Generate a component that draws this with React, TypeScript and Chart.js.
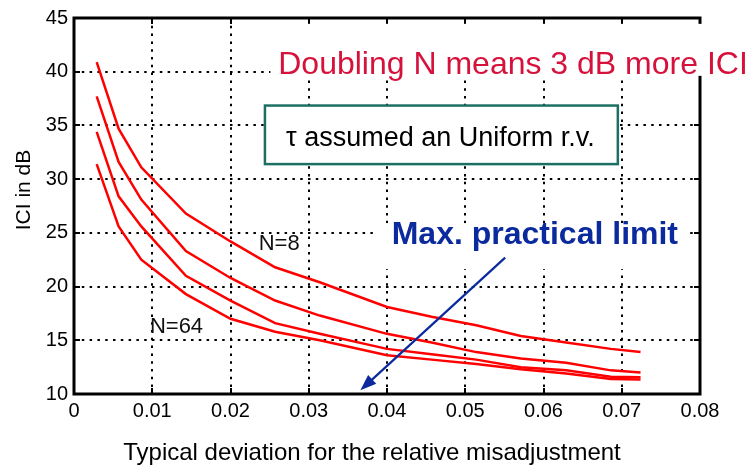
import React, { useEffect, useRef } from "react";
import { Chart, registerables } from "chart.js";

Chart.register(...registerables);

// Typical deviation of the relative misadjustment (x) and resulting ICI in dB for each N
const sigma = [0.0029, 0.0057, 0.0086, 0.0143, 0.02, 0.0257, 0.0314, 0.04, 0.0457, 0.0514, 0.0571, 0.0629, 0.0686, 0.0724];
const iciN8 = [40.9, 34.7, 31.1, 26.8, 24.2, 21.8, 20.4, 18.1, 17.2, 16.4, 15.4, 14.8, 14.2, 13.9];
const iciN16 = [37.7, 31.6, 28.1, 23.3, 20.8, 18.7, 17.3, 15.6, 14.8, 13.9, 13.3, 12.9, 12.2, 12.0];
const iciN32 = [34.4, 28.4, 25.6, 21.0, 18.7, 16.6, 15.6, 14.2, 13.7, 13.2, 12.5, 12.2, 11.6, 11.55];
const iciN64 = [31.4, 25.6, 22.5, 19.3, 17.0, 15.8, 15.0, 13.6, 13.2, 12.8, 12.3, 11.9, 11.4, 11.35];

const xMin = 0;
const xMax = 0.08;
const xStep = 0.01;
const yMin = 10;
const yMax = 45;
const yStep = 5;

const xTitle = "Typical deviation for the relative misadjustment";
const yTitle = "ICI in dB";
const headline = "Doubling N means 3 dB more ICI";
const boxText = "\u03C4 assumed an Uniform r.v.";
const limitText = "Max. practical limit";
const labelN8 = "N=8";
const labelN64 = "N=64";

const FONT = "'Liberation Sans', Arial, Helvetica, sans-serif";
const RED = "#ff0000";
const BLUE = "#0a2a9e";

const series = [iciN8, iciN16, iciN32, iciN64];

const annotations = {
  id: "annotations",
  afterDatasetsDraw(chart: any) {
    const { ctx, chartArea: a, scales } = chart;
    const xs = scales.x;
    const ys = scales.y;
    ctx.save();
    ctx.strokeStyle = "#000";
    ctx.lineWidth = 3;
    ctx.lineCap = "square";
    ctx.strokeRect(a.left, a.top, a.right - a.left, a.bottom - a.top);
    // inward tick marks
    ctx.lineWidth = 2;
    ctx.lineCap = "butt";
    for (let v = xMin; v <= xMax + 1e-9; v += xStep) {
      const px = Math.round(xs.getPixelForValue(v));
      ctx.beginPath();
      ctx.moveTo(px, a.bottom);
      ctx.lineTo(px, a.bottom - 6);
      ctx.moveTo(px, a.top);
      ctx.lineTo(px, a.top + 6);
      ctx.stroke();
    }
    for (let v = yMin; v <= yMax + 1e-9; v += yStep) {
      const py = Math.round(ys.getPixelForValue(v));
      ctx.beginPath();
      ctx.moveTo(a.left, py);
      ctx.lineTo(a.left + 6, py);
      ctx.moveTo(a.right, py);
      ctx.lineTo(a.right - 6, py);
      ctx.stroke();
    }
    ctx.restore();
  },
  afterDraw(chart: any) {
    const { ctx, chartArea: a, scales } = chart;
    const xs = scales.x;
    const ys = scales.y;
    const X = (v: number) => xs.getPixelForValue(v);
    const Y = (v: number) => ys.getPixelForValue(v);
    ctx.save();

    // axis titles
    ctx.fillStyle = "#000";
    ctx.textAlign = "center";
    ctx.textBaseline = "middle";
    ctx.font = `24px ${FONT}`;
    ctx.fillText(xTitle, 372, 453);
    ctx.save();
    ctx.translate(24, 190);
    ctx.rotate(-Math.PI / 2);
    ctx.font = `21px ${FONT}`;
    ctx.fillText(yTitle, 0, 0);
    ctx.restore();

    // headline with white backing
    ctx.fillStyle = "#fff";
    ctx.fillRect(X(0.0251), Y(39.8) - 50, 760, 52);
    ctx.fillStyle = "#d6123c";
    ctx.textAlign = "left";
    ctx.textBaseline = "alphabetic";
    ctx.font = `32px ${FONT}`;
    ctx.fillText(headline, X(0.0261), Y(39.8));

    // boxed note
    const bx0 = X(0.0244), bx1 = X(0.0695);
    const by0 = Y(36.85), by1 = Y(31.4);
    ctx.fillStyle = "#fff";
    ctx.fillRect(bx0, by0, bx1 - bx0, by1 - by0);
    ctx.strokeStyle = "#1b6f63";
    ctx.lineWidth = 2.5;
    ctx.strokeRect(bx0, by0, bx1 - bx0, by1 - by0);
    ctx.fillStyle = "#000";
    ctx.textAlign = "center";
    ctx.font = `27px ${FONT}`;
    ctx.fillText(boxText, (bx0 + bx1) / 2 - 1, Y(33.05));

    // practical limit label with white backing
    ctx.fillStyle = "#fff";
    ctx.fillRect(X(0.0382), Y(25.9), X(0.0787) - X(0.0382), 46);
    ctx.fillStyle = BLUE;
    ctx.textAlign = "left";
    ctx.font = `bold 32px ${FONT}`;
    ctx.fillText(limitText, X(0.0406), Y(24.0));

    // arrow toward the limit
    const x0 = X(0.0551), y0 = Y(22.7);
    const x1 = X(0.0366), y1 = Y(10.35);
    const ang = Math.atan2(y1 - y0, x1 - x0);
    const head = 16, half = 6;
    ctx.strokeStyle = BLUE;
    ctx.lineWidth = 2.2;
    ctx.beginPath();
    ctx.moveTo(x0, y0);
    ctx.lineTo(x1 - Math.cos(ang) * head * 0.8, y1 - Math.sin(ang) * head * 0.8);
    ctx.stroke();
    ctx.fillStyle = BLUE;
    ctx.beginPath();
    ctx.moveTo(x1, y1);
    ctx.lineTo(x1 - Math.cos(ang) * head - Math.sin(ang) * half, y1 - Math.sin(ang) * head + Math.cos(ang) * half);
    ctx.lineTo(x1 - Math.cos(ang) * head + Math.sin(ang) * half, y1 - Math.sin(ang) * head - Math.cos(ang) * half);
    ctx.closePath();
    ctx.fill();

    // curve labels
    ctx.fillStyle = "#111";
    ctx.font = `22px ${FONT}`;
    ctx.fillText(labelN8, X(0.0236), Y(23.4));
    ctx.fillText(labelN64, X(0.0097), Y(15.7));

    ctx.restore();
  },
};

export default function App() {
  const ref = useRef<HTMLCanvasElement | null>(null);

  useEffect(() => {
    if (!ref.current) return;
    const tickFont = { family: FONT, size: 20 };
    const chart = new Chart(ref.current, {
      type: "line",
      data: {
        datasets: series.map((s, i) => ({
          label: ["N=8", "N=16", "N=32", "N=64"][i],
          data: sigma.map((x, k) => ({ x, y: s[k] })),
          borderColor: RED,
          borderWidth: 2.5,
          pointRadius: 0,
          tension: 0,
          fill: false,
        })),
      },
      options: {
        animation: false,
        responsive: false,
        maintainAspectRatio: false,
        layout: { padding: { left: 0, right: 53, top: 15, bottom: 0 } },
        plugins: { legend: { display: false }, tooltip: { enabled: false } },
        scales: {
          x: {
            type: "linear",
            min: xMin,
            max: xMax,
            ticks: {
              stepSize: xStep,
              autoSkip: false,
              maxRotation: 0,
              padding: 5,
              color: "#000",
              font: tickFont,
              callback: (v: any) => (Math.abs(v) < 1e-9 ? "0" : Number(v).toFixed(2)),
            },
            grid: { color: "#000", lineWidth: 2, drawTicks: false },
            border: { display: false, dash: [2.5, 5.3] },
            afterFit: (s: any) => {
              s.height = 74;
            },
          },
          y: {
            type: "linear",
            min: yMin,
            max: yMax,
            ticks: {
              stepSize: yStep,
              padding: 6,
              color: "#000",
              font: tickFont,
            },
            grid: { color: "#000", lineWidth: 2, drawTicks: false },
            border: { display: false, dash: [2.5, 5.3] },
            afterFit: (s: any) => {
              s.width = 74;
            },
          },
        },
      },
      plugins: [annotations],
    });
    return () => chart.destroy();
  }, []);

  return (
    <div style={{ position: "fixed", left: 0, top: 0, width: 753, height: 468, background: "#fff" }}>
      <canvas ref={ref} width={753} height={468} />
    </div>
  );
}
